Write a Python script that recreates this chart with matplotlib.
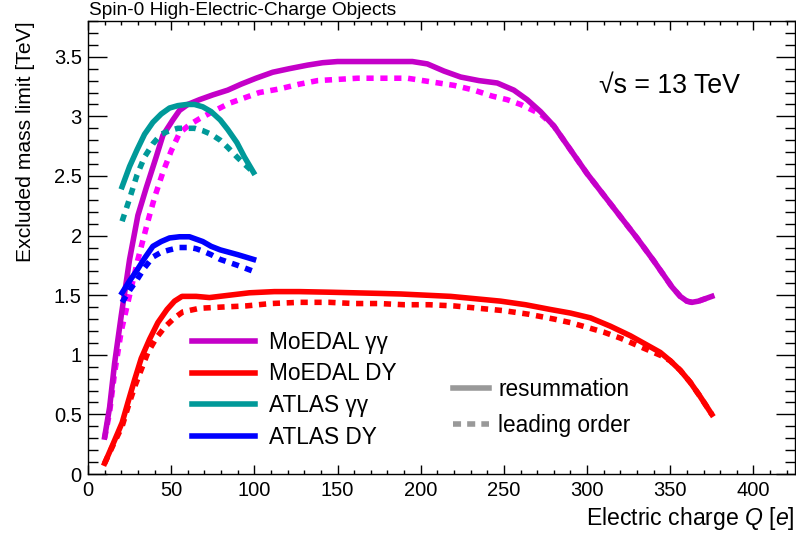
import numpy as np
import matplotlib.pyplot as plt
from matplotlib.lines import Line2D
from matplotlib.ticker import MultipleLocator

plt.rcParams['font.family'] = ['Liberation Sans', 'DejaVu Sans']
plt.rcParams['mathtext.fontset'] = 'custom'
plt.rcParams['mathtext.rm'] = 'Liberation Sans'
plt.rcParams['mathtext.it'] = 'Liberation Sans:italic'

# ---------------- дані ----------------
# MoEDAL γγ
moedal_gg_q = [10, 13, 16, 20, 25, 30, 35, 41, 45, 51, 55, 60, 67, 75, 84, 92, 101, 111, 121,
               132, 141, 150, 160, 171, 183, 195, 204, 214, 224, 235, 246, 256, 264, 272, 280,
               290, 300, 310, 320, 330, 340, 346, 351, 356, 360, 363, 367, 371, 375]
moedal_gg_res = [0.31, 0.56, 0.93, 1.33, 1.80, 2.17, 2.40, 2.66, 2.84, 2.97, 3.05, 3.10, 3.14,
                 3.18, 3.22, 3.27, 3.32, 3.37, 3.40, 3.43, 3.45, 3.46, 3.46, 3.46, 3.46, 3.46,
                 3.44, 3.38, 3.33, 3.30, 3.28, 3.22, 3.14, 3.04, 2.92, 2.72, 2.52, 2.34, 2.16,
                 1.98, 1.79, 1.67, 1.57, 1.49, 1.45, 1.44, 1.45, 1.47, 1.49]
moedal_gg_lo_q = [10, 13, 16, 20, 24, 30, 36, 40, 45, 50, 55, 61, 67, 75, 85, 93, 103, 115, 127,
                  138, 150, 162, 177, 192, 206, 220, 232, 243, 252, 260, 266, 272, 280, 290,
                  300, 310, 320, 330, 340, 346, 351, 356, 360, 363, 367, 371, 375]
moedal_gg_lo = [0.30, 0.52, 0.85, 1.20, 1.44, 1.80, 2.12, 2.32, 2.53, 2.71, 2.86, 2.93, 2.98,
                3.04, 3.11, 3.15, 3.20, 3.23, 3.27, 3.30, 3.31, 3.32, 3.32, 3.32, 3.29, 3.26,
                3.22, 3.17, 3.14, 3.10, 3.06, 3.02, 2.92, 2.72, 2.52, 2.34, 2.16, 1.98, 1.79,
                1.67, 1.57, 1.49, 1.45, 1.44, 1.45, 1.47, 1.49]

# MoEDAL DY
moedal_dy_q = [10, 15, 20.5, 24, 28, 32, 37, 42, 47.5, 52, 56.5, 65, 73, 85, 97, 112, 127, 145,
               160, 175, 188, 203, 218, 233, 248, 263, 278, 290, 302, 314, 326, 335, 344, 350,
               356, 362, 368, 375]
moedal_dy_res = [0.09, 0.25, 0.43, 0.60, 0.79, 0.97, 1.13, 1.27, 1.38, 1.45, 1.49, 1.49, 1.48,
                 1.50, 1.52, 1.53, 1.53, 1.525, 1.52, 1.515, 1.51, 1.50, 1.49, 1.47, 1.45, 1.42,
                 1.38, 1.35, 1.31, 1.24, 1.16, 1.09, 1.02, 0.95, 0.87, 0.77, 0.65, 0.50]
moedal_dy_lo_q = [10, 15, 20.5, 24, 28, 36, 41, 46, 52, 57, 67, 80, 95, 110, 127, 145, 160, 175,
                  190, 205, 220, 235, 250, 265, 280, 290, 300, 310, 320, 330, 340, 345, 350,
                  356, 362, 368, 375]
moedal_dy_lo = [0.09, 0.24, 0.40, 0.56, 0.73, 1.02, 1.14, 1.23, 1.31, 1.36, 1.39, 1.40, 1.41,
                1.43, 1.44, 1.44, 1.43, 1.43, 1.42, 1.42, 1.41, 1.39, 1.37, 1.34, 1.30, 1.27,
                1.23, 1.19, 1.14, 1.08, 1.02, 0.99, 0.95, 0.87, 0.77, 0.65, 0.50]

# ATLAS γγ
atlas_gg_q = [20.5, 25, 29.5, 34, 39, 44, 49, 54, 59.5, 64, 69, 74, 79.5, 84, 89.5, 94, 99.5]
atlas_gg_res = [2.41, 2.58, 2.72, 2.85, 2.95, 3.02, 3.07, 3.09, 3.10, 3.10, 3.08, 3.04, 2.97,
                2.89, 2.78, 2.66, 2.53]
atlas_gg_lo = [2.12, 2.31, 2.51, 2.66, 2.77, 2.85, 2.88, 2.90, 2.90, 2.90, 2.88, 2.85, 2.80,
               2.74, 2.66, 2.60, 2.53]

# ATLAS DY
atlas_dy_q = [20.5, 25, 29.5, 34, 39, 44, 49, 55, 61, 65, 69, 74, 79.5, 90, 99.5]
atlas_dy_res = [1.52, 1.62, 1.71, 1.81, 1.91, 1.95, 1.98, 1.99, 1.99, 1.97, 1.95, 1.91, 1.88,
                1.84, 1.80]
atlas_dy_lo = [1.44, 1.54, 1.63, 1.73, 1.82, 1.86, 1.88, 1.90, 1.90, 1.89, 1.87, 1.84, 1.80,
               1.75, 1.70]

series_names = ["MoEDAL γγ", "MoEDAL DY", "ATLAS γγ", "ATLAS DY"]
style_names = ["resummation", "leading order"]
title_txt = "Spin-0 High-Electric-Charge Objects"

# ---------------- побудова ----------------
fig = plt.figure(figsize=(7.96, 5.35), dpi=100)
ax = fig.add_axes([88 / 796, 1 - 474 / 535, 707 / 796, 453 / 535])

LW = 4.0
DASH = (1.3, 1.2)
c_purple, c_magenta = "#c400c8", "#ff00ff"
c_red, c_teal, c_blue = "#ff0000", "#009999", "#0000ff"

ax.plot(moedal_gg_lo_q, moedal_gg_lo, color=c_magenta, lw=LW, dashes=DASH)
ax.plot(moedal_gg_q, moedal_gg_res, color=c_purple, lw=LW, solid_joinstyle='round')
ax.plot(moedal_dy_lo_q, moedal_dy_lo, color=c_red, lw=LW, dashes=DASH)
ax.plot(moedal_dy_q, moedal_dy_res, color=c_red, lw=LW, solid_joinstyle='round')
ax.plot(atlas_gg_q, atlas_gg_lo, color=c_teal, lw=LW, dashes=DASH)
ax.plot(atlas_gg_q, atlas_gg_res, color=c_teal, lw=LW, solid_joinstyle='round')
ax.plot(atlas_dy_q, atlas_dy_lo, color=c_blue, lw=LW, dashes=DASH)
ax.plot(atlas_dy_q, atlas_dy_res, color=c_blue, lw=LW, solid_joinstyle='round')

ax.set_xlim(0, 425)
ax.set_ylim(0, 3.8)
ax.xaxis.set_major_locator(MultipleLocator(50))
ax.xaxis.set_minor_locator(MultipleLocator(10))
ax.yaxis.set_major_locator(MultipleLocator(0.5))
ax.yaxis.set_minor_locator(MultipleLocator(0.1))
ax.yaxis.set_major_formatter(plt.FuncFormatter(lambda v, p: f"{v:g}"))

ax.tick_params(which='both', direction='in', top=True, right=True, labelsize=14.5, width=1.0)
ax.tick_params(axis='x', which='major', length=6.5, pad=5)
ax.tick_params(axis='x', which='minor', length=3)
ax.tick_params(axis='y', which='major', length=14, pad=4.5)
ax.tick_params(axis='y', which='minor', length=7)
for s in ax.spines.values():
    s.set_linewidth(1.0)

ax.set_xlabel(r"Electric charge $\it{Q}$ [$\it{e}$]", fontsize=16.6, loc='right')
ax.xaxis.set_label_coords(1.0, -0.068)
ax.set_ylabel("Excluded mass limit [TeV]", fontsize=15.2, loc='top')
ax.yaxis.set_label_coords(-0.075, 1.0)

fig.text(89 / 796, 1 - 15 / 535, title_txt, fontsize=13.8, ha='left', va='baseline')
ax.text(0.723, 0.842, "√s = 13 TeV", transform=ax.transAxes, fontsize=19.3,
        ha='left', va='baseline')

# легенда кольорів
h1 = [Line2D([], [], color=c, lw=LW) for c in (c_purple, c_red, c_teal, c_blue)]
leg1 = ax.legend(h1, series_names, loc='upper left', bbox_to_anchor=(0.147, 0.316),
                 frameon=False, fontsize=16.3, handlelength=2.79, handletextpad=0.62,
                 labelspacing=0.38, borderpad=0, borderaxespad=0)
ax.add_artist(leg1)

# легенда стилю
h2 = [Line2D([], [], color="#999999", lw=LW),
      Line2D([], [], color="#999999", lw=LW, dashes=(1.45, 1.1))]
ax.legend(h2, style_names, loc='upper left',
          bbox_to_anchor=(0.516, 0.212), frameon=False, fontsize=16.3, handlelength=1.6,
          handletextpad=0.4, labelspacing=0.56, borderpad=0, borderaxespad=0)

fig.savefig("out.png", dpi=100)
